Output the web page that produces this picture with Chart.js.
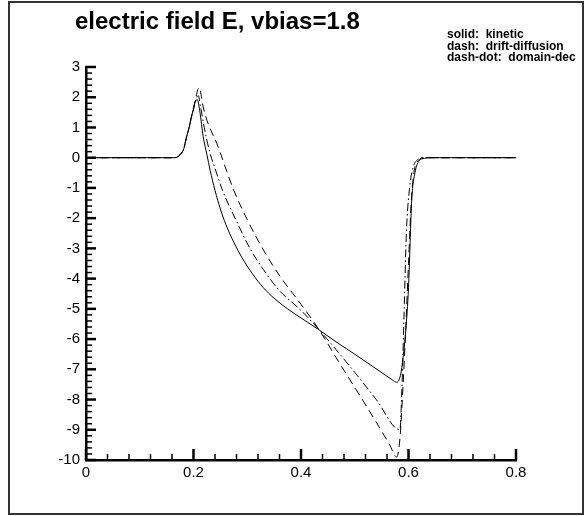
<!DOCTYPE html>
<html>
<head>
<meta charset="utf-8">
<title>electric field E, vbias=1.8</title>
<script src="https://cdn.jsdelivr.net/npm/chart.js@4.4.1/dist/chart.umd.min.js"></script>
<style>
    body { margin: 0; background: #fff; }
    #wrap { position: relative; width: 586px; height: 516px; }
    #frame {
        position: absolute; left: 8px; top: 1px; width: 572px; height: 510px;
        border: 2px solid #333; pointer-events: none;
    }
    #chartTitle {
        position: absolute; left: 75px; top: 7px; line-height: 1;
        font: bold 24px "Liberation Sans", Arial, sans-serif; color: #000; white-space: nowrap;
    }
    #note {
        position: absolute; left: 447px; top: 29px;
        font: bold 12px "Liberation Sans", Arial, sans-serif; line-height: 11.5px; color: #000; white-space: pre;
    }
    canvas { position: absolute; left: 0; top: 0; }
</style>
</head>
<body>
<div id="wrap">
    <canvas id="fieldChart" width="586" height="516"></canvas>
    <div id="chartTitle">electric field E, vbias=1.8</div>
    <div id="note">solid:  kinetic
dash:  drift-diffusion
dash-dot:  domain-dec</div>
    <div id="frame"></div>
</div>
<script>
// values
const kineticX = [0, 0.165, 0.175, 0.182, 0.187, 0.192, 0.196, 0.2, 0.203, 0.207, 0.212, 0.218, 0.225, 0.231, 0.24,
    0.25, 0.26, 0.275, 0.29, 0.31, 0.33, 0.35, 0.375, 0.4, 0.434, 0.47, 0.5, 0.547, 0.57, 0.578,
    0.585, 0.59, 0.595, 0.6, 0.606, 0.612, 0.62, 0.63, 0.64, 0.8];
const kineticE = [0, 0, 0.1, 0.3, 0.68, 1.0, 1.34, 1.6, 1.84, 1.92, 1.5, 0.7, 0.1, -0.42, -1.08,
    -1.7, -2.2, -2.8, -3.3, -3.85, -4.3, -4.65, -5.0, -5.3, -5.7, -6.15, -6.5, -7.07, -7.35, -7.43,
    -7.2, -6.6, -5.7, -4.3, -1.4, -0.5, -0.1, -0.02, 0, 0];

const driftX = [0, 0.165, 0.175, 0.182, 0.187, 0.192, 0.196, 0.2, 0.204, 0.208, 0.211, 0.214, 0.218, 0.246, 0.275,
    0.3, 0.33, 0.36, 0.4, 0.434, 0.47, 0.5, 0.54, 0.565, 0.578,
    0.584, 0.59, 0.594, 0.6, 0.605, 0.61, 0.618, 0.63, 0.8];
const driftE = [0, 0, 0.1, 0.3, 0.68, 1.0, 1.35, 1.65, 1.95, 2.25, 2.32, 2.1, 1.68, 0.35, -1.08,
    -2.05, -3.05, -3.9, -4.85, -5.7, -6.75, -7.6, -8.75, -9.5, -9.9,
    -9.3, -7.5, -6.0, -3.5, -1.5, -0.5, -0.1, 0, 0];

const domainX = [0, 0.165, 0.175, 0.182, 0.187, 0.192, 0.196, 0.2, 0.204, 0.209, 0.213, 0.22, 0.23, 0.24, 0.254,
    0.28, 0.305, 0.33, 0.36, 0.4, 0.434, 0.47, 0.5, 0.54, 0.584,
    0.588, 0.592, 0.596, 0.602, 0.608, 0.615, 0.63, 0.8];
const domainE = [0, 0, 0.1, 0.3, 0.68, 1.0, 1.34, 1.62, 1.9, 2.05, 1.7, 1.0, 0.2, -0.35, -1.08,
    -2.1, -3.0, -3.7, -4.4, -5.05, -5.7, -6.45, -7.1, -8.0, -9.0,
    -7.5, -5.0, -2.5, -1.0, -0.35, -0.1, 0, 0];

const xMin = 0, xMax = 0.8, xStep = 0.2;
const yMin = -10, yMax = 3, yStep = 1;
const minorPerMajor = 5;

function toPoints(xs, ys) {
    return xs.map((x, i) => ({ x: x, y: ys[i] }));
}

// tecplot-like inward ticks, major + minor
const inwardTicks = {
    id: 'inwardTicks',
    afterDatasetsDraw(chart) {
        const { ctx, chartArea, scales } = chart;
        const xs = scales.x, ys = scales.y;
        ctx.save();
        ctx.strokeStyle = '#000';

        const drawX = (v, len, w) => {
            const px = xs.getPixelForValue(v);
            ctx.lineWidth = w;
            ctx.beginPath();
            ctx.moveTo(px, chartArea.bottom);
            ctx.lineTo(px, chartArea.bottom - len);
            ctx.stroke();
        };
        const drawY = (v, len, w) => {
            const py = ys.getPixelForValue(v);
            ctx.lineWidth = w;
            ctx.beginPath();
            ctx.moveTo(chartArea.left, py);
            ctx.lineTo(chartArea.left + len, py);
            ctx.stroke();
        };

        xs.ticks.forEach((t, i) => {
            drawX(t.value, 11, 2.5);
            const next = xs.ticks[i + 1];
            if (!next) return;
            for (let k = 1; k < minorPerMajor; k++) {
                drawX(t.value + (next.value - t.value) * k / minorPerMajor, 6, 1.5);
            }
        });
        ys.ticks.forEach((t, i) => {
            drawY(t.value, 10, 2.5);
            const next = ys.ticks[i + 1];
            if (!next) return;
            for (let k = 1; k < minorPerMajor; k++) {
                drawY(t.value + (next.value - t.value) * k / minorPerMajor, 6, 1.5);
            }
        });
        ctx.restore();
    }
};

const lineStyle = {
    borderColor: '#000',
    borderWidth: 1,
    pointRadius: 0,
    fill: false,
    cubicInterpolationMode: 'monotone'
};

const tickFont = { family: '"Liberation Sans", Arial, sans-serif', size: 15 };

new Chart(document.getElementById('fieldChart'), {
    type: 'line',
    data: {
        datasets: [
            { ...lineStyle, label: 'kinetic', data: toPoints(kineticX, kineticE) },
            { ...lineStyle, label: 'drift-diffusion', data: toPoints(driftX, driftE), borderDash: [8, 5] },
            { ...lineStyle, label: 'domain-dec', data: toPoints(domainX, domainE), borderDash: [8, 3, 1.5, 3] }
        ]
    },
    options: {
        responsive: false,
        animation: false,
        devicePixelRatio: 1,
        layout: { padding: { left: 0, right: 70, top: 67, bottom: 0 } },
        plugins: {
            legend: { display: false },
            title: { display: false },
            tooltip: { enabled: false }
        },
        scales: {
            x: {
                type: 'linear',
                min: xMin,
                max: xMax,
                afterFit: (scale) => { scale.height = 56; },
                grid: { display: false, drawTicks: false },
                border: { display: true, color: '#000', width: 2.5 },
                ticks: {
                    stepSize: xStep,
                    padding: 4,
                    color: '#000',
                    font: tickFont,
                    maxRotation: 0,
                    callback: (v) => String(Math.round(v * 10) / 10)
                }
            },
            y: {
                min: yMin,
                max: yMax,
                afterFit: (scale) => { scale.width = 86; },
                grid: { display: false, drawTicks: false },
                border: { display: true, color: '#000', width: 2.5 },
                ticks: {
                    stepSize: yStep,
                    padding: 6,
                    color: '#000',
                    font: tickFont,
                    callback: (v) => String(v)
                }
            }
        }
    },
    plugins: [inwardTicks]
});
</script>
</body>
</html>
